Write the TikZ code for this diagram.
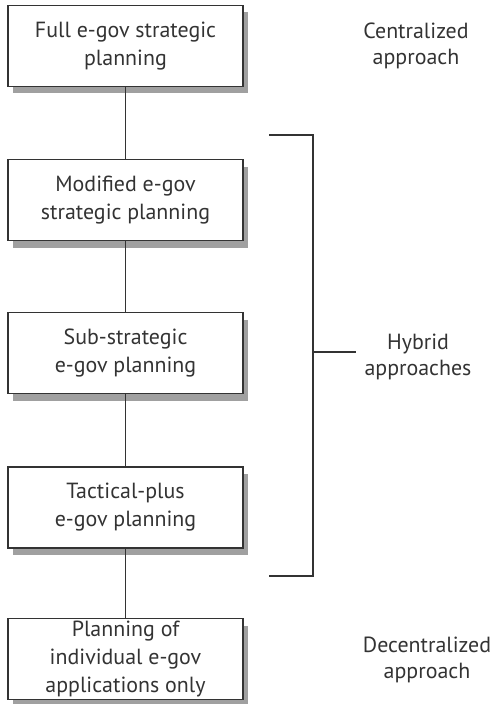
\documentclass[tikz,border=0pt]{standalone}
\usepackage{fontspec}
\setmainfont{PT Sans}
\definecolor{ink}{HTML}{333333}
\definecolor{shadowgrey}{HTML}{A0A0A0}
\begin{document}
\begin{tikzpicture}[x=1bp,y=-1bp,
  levelsize/.style={minimum width=235bp,minimum height=81bp,inner sep=0pt},
  level/.style={levelsize,draw=ink,line width=1.3bp,fill=white,
    align=center,font=\fontsize{22}{28}\selectfont,text=ink},
  levelshadow/.style={levelsize,fill=shadowgrey,draw=none},
  tag/.style={align=center,font=\fontsize{22}{26.5}\selectfont,text=ink},
  link/.style={draw=ink,line width=1.2bp}]
\useasboundingbox (0,0) rectangle (492,704);
% box centres
\coordinate (p1) at (125.5,46);
\coordinate (p2) at (125.5,200);
\coordinate (p3) at (125.5,353);
\coordinate (p4) at (125.5,507.5);
\coordinate (p5) at (125.5,659);
% grey offset shadows, drawn first so the boxes cover them
\foreach \p in {p1,p2,p3,p4,p5}
  \node[levelshadow] (s\p) at ([xshift=5bp,yshift=-7bp]\p) {};
\node[level] (b1) at (p1) {Full e-gov strategic\\planning};
\node[level] (b2) at (p2) {Modified e-gov\\strategic planning};
\node[level] (b3) at (p3) {Sub-strategic\\e-gov planning};
\node[level] (b4) at (p4) {Tactical-plus\\e-gov planning};
\node[level] (b5) at (p5) {Planning of\\individual e-gov\\applications only};
\draw[link] (b1) -- (b2);
\draw[link] (b2) -- (b3);
\draw[link] (b3) -- (b4);
\draw[link] (b4) -- (b5);
% bracket grouping the hybrid levels
\coordinate (bt) at (269,135);
\coordinate (bb) at (269,576);
\coordinate (bm) at (313,352);
\coordinate (tick) at (356,352);
\draw[link] (bt) -- (313,135) -- (313,576) -- (bb);
\draw[link] (bm) -- (tick);
\node[tag] (cen) at (416,46) {Centralized\\approach};
\node[tag] (hyb) at (418,357) {Hybrid\\approaches};
\node[tag] (dec) at (427,660) {Decentralized\\approach};
\end{tikzpicture}
\end{document}
